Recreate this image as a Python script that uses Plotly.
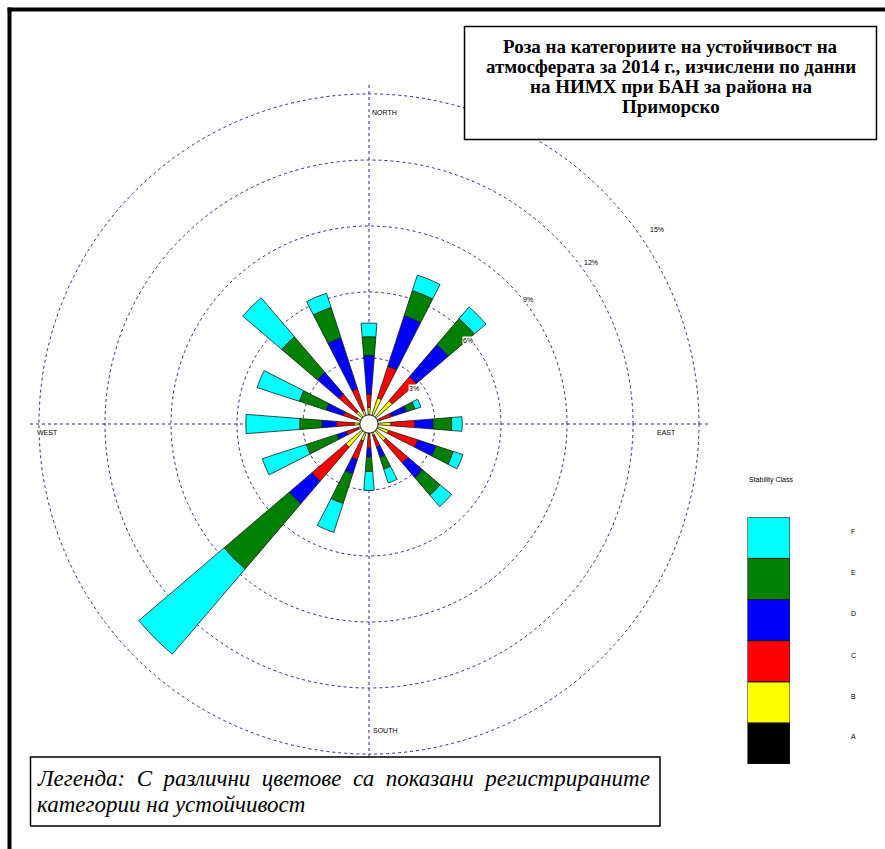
import math
import plotly.graph_objects as go

W_PX, H_PX = 885, 849

# ---------------- data ----------------
DIRECTIONS = ["N", "NNE", "NE", "ENE", "E", "ESE", "SE", "SSE",
              "S", "SSW", "SW", "WSW", "W", "WNW", "NW", "NNW"]
DIR_DEG = [0, 22.5, 45, 67.5, 90, 112.5, 135, 157.5,
           180, 202.5, 225, 247.5, 270, 292.5, 315, 337.5]
CLASSES = ["A", "B", "C", "D", "E", "F"]
CALM = 0.41  # calm circle (%)

A_VAL = [0, 0, 0, 0, 0, 0, 0, 0, 0, 0, 0, 0, 0, 0, 0, 0]
B_VAL = [0.34, 0.84, 0.99, 0.08, 0.59, 0.53, 0.59, 0.14, 0.04, 0.40, 0.98, 0.11, 0.27, 0.18, 0.35, 0.26]
C_VAL = [0.61, 1.51, 1.43, 0.59, 1.08, 1.39, 1.33, 0.55, 0.65, 0.90, 2.02, 0.56, 0.81, 0.64, 1.03, 1.02]
D_VAL = [1.76, 2.42, 1.92, 0.72, 0.84, 0.87, 0.88, 0.49, 0.41, 0.67, 1.36, 0.45, 0.65, 0.81, 1.30, 2.43]
E_VAL = [0.85, 1.20, 1.55, 0.40, 0.84, 0.83, 1.05, 0.57, 0.65, 1.42, 3.90, 1.47, 1.01, 1.29, 2.13, 1.45]
F_VAL = [0.62, 0.74, 0.70, 0.28, 0.48, 0.46, 0.68, 0.66, 0.86, 1.38, 5.10, 2.10, 2.45, 2.02, 2.33, 0.68]

RING_TICKS = [3, 6, 9, 12, 15]
RING_LABELS = ["3%", "6%", "9%", "12%", "15%"]
COMPASS_LABELS = ["NORTH", "EAST", "SOUTH", "WEST"]

TITLE_LINES = ["Роза на категориите на устойчивост на",
               "атмосферата за 2014 г., изчислени по данни",
               "на НИМХ при БАН за района на",
               "Приморско"]
NOTE_LINES = ["Легенда: С различни цветове са показани регистрираните",
              "категории на устойчивост"]
LEGEND_TITLE = "Stability Class"

# ---------------- styles / layout ----------------
COLORS = {"A": "#000000", "B": "#FFFF00", "C": "#FF0000",
          "D": "#0000FF", "E": "#008000", "F": "#00FFFF"}
GRID_COLOR = "#2a2a96"
SMALL_FONT = dict(family="Liberation Sans, Arial", size=7, color="#000000")

CX, CY, R_PX = 369, 424, 341      # polar centre / radius in page pixels
R_MAX = 15.5
PX_PER_UNIT = R_PX / R_MAX
BAR_WIDTH_DEG = 9.0

RING_LABEL_ANGLE = [52, 50, 52, 54, 56]
COMPASS_POS = [(14.2, 2.9), (13.55, 91.7), (13.97, 177), (14.6, 268.4)]


def px(x):
    return x / W_PX


def py(y):
    return 1 - y / H_PX


def polar_px(r, theta):
    rad = math.radians(theta)
    return CX + r * PX_PER_UNIT * math.sin(rad), CY - r * PX_PER_UNIT * math.cos(rad)


fig = go.Figure()

values = {"A": A_VAL, "B": B_VAL, "C": C_VAL, "D": D_VAL, "E": E_VAL, "F": F_VAL}
base = [CALM] * len(DIR_DEG)
for cls in CLASSES:
    vals = values[cls]
    if any(v > 0 for v in vals):
        fig.add_trace(go.Barpolar(
            r=vals, theta=DIR_DEG, base=list(base), width=BAR_WIDTH_DEG,
            marker=dict(color=COLORS[cls], line=dict(color="#1a1a1a", width=0.8)),
            name=cls, showlegend=False, hoverinfo="skip"))
    base = [b + v for b, v in zip(base, vals)]

# calm circle
n_circ = 120
fig.add_trace(go.Scatterpolar(
    r=[CALM] * (n_circ + 1), theta=[i * 360 / n_circ for i in range(n_circ + 1)],
    mode="lines", fill="toself", fillcolor="white",
    line=dict(color="black", width=1), showlegend=False, hoverinfo="skip"))

# legend colour column
fig.add_trace(go.Bar(
    x=[0] * len(CLASSES), y=[1] * len(CLASSES), base=list(range(len(CLASSES))),
    width=1, marker=dict(color=[COLORS[c] for c in CLASSES],
                         line=dict(color="#1a1a1a", width=1)),
    xaxis="x", yaxis="y", showlegend=False, hoverinfo="skip"))

fig.update_layout(
    width=W_PX, height=H_PX,
    margin=dict(l=0, r=0, t=0, b=0),
    paper_bgcolor="white", plot_bgcolor="white",
    barmode="overlay",
    polar=dict(
        domain=dict(x=[px(CX - R_PX), px(CX + R_PX)],
                    y=[py(CY + R_PX), py(CY - R_PX)]),
        bgcolor="white",
        radialaxis=dict(range=[0, R_MAX], tickvals=RING_TICKS, showticklabels=False,
                        ticks="", showline=False, gridcolor=GRID_COLOR,
                        gridwidth=1, griddash="3px,3px"),
        angularaxis=dict(rotation=90, direction="clockwise", dtick=90,
                         showticklabels=False, ticks="", showline=False,
                         gridcolor=GRID_COLOR, gridwidth=1, griddash="3px,3px"),
    ),
    xaxis=dict(domain=[px(747.5), px(790)], range=[-0.5, 0.5], visible=False,
               fixedrange=True),
    yaxis=dict(domain=[py(764), py(517.3)], range=[0, 6], visible=False,
               fixedrange=True),
)

shapes = [
    dict(type="line", xref="paper", yref="paper", x0=px(9.5), x1=px(9.5), y0=0, y1=py(7.5),
         line=dict(color="black", width=4)),
    dict(type="line", xref="paper", yref="paper", x0=px(7.5), x1=1, y0=py(9.5), y1=py(9.5),
         line=dict(color="black", width=4)),
    dict(type="rect", xref="paper", yref="paper", x0=px(464.5), x1=px(876.5),
         y0=py(139.5), y1=py(26.5), line=dict(color="black", width=1.5), fillcolor="white"),
    dict(type="rect", xref="paper", yref="paper", x0=px(30.5), x1=px(660),
         y0=py(826), y1=py(757), line=dict(color="black", width=1.5), fillcolor="white"),
]
fig.update_layout(shapes=shapes)

annotations = []
title_y = [46.7, 66.5, 86.3, 106]
for line, yy in zip(TITLE_LINES, title_y):
    annotations.append(dict(
        text="<b>" + line + "</b>", xref="paper", yref="paper",
        x=px(670.5), y=py(yy), xanchor="center", yanchor="middle", showarrow=False,
        font=dict(family="Liberation Serif", size=19, color="black")))

note_y = [778, 804]
for i, (line, yy) in enumerate(zip(NOTE_LINES, note_y)):
    txt = line.replace(" ", " \u00a0") if i == 0 else line
    annotations.append(dict(
        text="<i>" + txt + "</i>", xref="paper", yref="paper",
        x=px(35), y=py(yy), xanchor="left", yanchor="middle", showarrow=False,
        font=dict(family="Liberation Serif", size=23, color="black")))

annotations.append(dict(text=LEGEND_TITLE, xref="paper", yref="paper", x=px(770.5),
                        y=py(480), xanchor="center", yanchor="middle",
                        showarrow=False, font=SMALL_FONT))
label_y = [736.7, 696, 655, 613.3, 572.3, 531]
for cls, yy in zip(CLASSES, label_y):
    annotations.append(dict(text=cls, xref="paper", yref="paper", x=px(853), y=py(yy),
                            xanchor="center", yanchor="middle", showarrow=False,
                            font=SMALL_FONT))

for tick, lab, ang in zip(RING_TICKS, RING_LABELS, RING_LABEL_ANGLE):
    xx, yy = polar_px(tick * 1.1 - 0.7, ang)
    annotations.append(dict(text=lab, xref="paper", yref="paper", x=px(xx), y=py(yy),
                            xanchor="center", yanchor="middle", showarrow=False,
                            bgcolor="white", borderpad=0, font=SMALL_FONT))
for lab, (rr, ang) in zip(COMPASS_LABELS, COMPASS_POS):
    xx, yy = polar_px(rr, ang)
    annotations.append(dict(text=lab, xref="paper", yref="paper", x=px(xx), y=py(yy),
                            xanchor="center", yanchor="middle", showarrow=False,
                            bgcolor="white", borderpad=0, font=SMALL_FONT))
fig.update_layout(annotations=annotations)

fig.write_html("out.html", config={"displayModeBar": False},
               post_script="document.body.style.margin='0';")
